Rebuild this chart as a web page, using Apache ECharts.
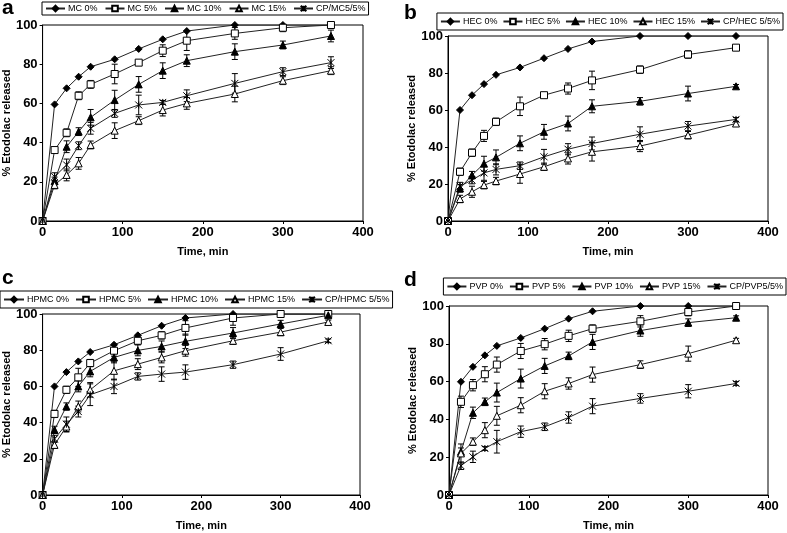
<!DOCTYPE html>
<html><head><meta charset="utf-8">
<script src="https://cdn.jsdelivr.net/npm/echarts@6/dist/echarts.min.js"></script>
<style>html,body{margin:0;padding:0;background:#fff}#c{width:787px;height:533px}</style>
</head><body><div id="c"></div>
<script>
const times = [0, 15, 30, 45, 60, 90, 120, 150, 180, 240, 300, 360];
const xTicks = [0, 100, 200, 300, 400];
const yTicks = [0, 20, 40, 60, 80, 100];

// Panel a (MC)
const namesA = ['MC 0%', 'MC 5%', 'MC 10%', 'MC 15%', 'CP/MC5/5%'];
const mc0  = [0, 59.5, 67.7, 73.6, 78.7, 82.5, 87.8, 92.7, 96.9, 100, 100, 100];
const mc5  = [0, 36.2, 45, 63.9, 69.7, 75, 80.8, 86.9, 92, 95.7, 98.6, 100];
const mc10 = [0, 20.4, 37.9, 45.6, 52.9, 61.7, 69.7, 76.7, 81.8, 86.4, 89.8, 94.4];
const mc15 = [0, 18.4, 23.5, 29.4, 38.8, 46.1, 51.2, 56.6, 60, 64.8, 71.6, 76.7];
const cpMc = [0, 22.6, 28.6, 38.4, 47.3, 54.9, 59.2, 60.5, 63.9, 70.2, 76.2, 80.8];
const mc0Err  = [0, 0, 0, 0, 0, 0, 0, 0, 0, 0, 0, 0];
const mc5Err  = [0, 1, 2, 2, 2, 5, 1, 3, 5, 3, 2, 1];
const mc10Err = [0, 2, 3, 2, 4, 5, 4, 4, 3, 4, 2, 3];
const mc15Err = [0, 2, 3, 3, 2, 4, 2, 3, 3, 4, 2, 2];
const cpMcErr = [0, 2, 3, 2, 3, 2, 5, 1, 3, 5, 2, 3];

// Panel b (HEC)
const namesB = ['HEC 0%', 'HEC 5%', 'HEC 10%', 'HEC 15%', 'CP/HEC 5/5%'];
const hec0  = [0, 60, 68, 74, 79, 83, 88, 93, 97, 100, 100, 100];
const hec5  = [0, 26.6, 36.9, 46, 53.6, 62, 68, 71.6, 76, 81.8, 90, 93.7];
const hec10 = [0, 17.6, 24.8, 31, 34.4, 42, 48.2, 52.7, 62, 64.7, 68.9, 72.8];
const hec15 = [0, 11.9, 15.8, 19.4, 21.6, 25.4, 29.3, 33.8, 37.4, 40.5, 46.4, 52.7];
const cpHec = [0, 18.9, 22.1, 26, 27.9, 29.9, 34.7, 38.8, 41.9, 46.9, 51.3, 54.9];
const hec0Err  = [0, 0, 0, 0, 0, 0, 0, 0, 0, 0, 0, 0];
const hec5Err  = [0, 2, 2, 3, 2, 5, 1, 3, 5, 2, 2, 1];
const hec10Err = [0, 2, 2, 4, 4, 4, 4, 4, 3.5, 2, 4, 1];
const hec15Err = [0, 2, 3, 2, 2, 5, 2, 3, 5, 3, 2, 1];
const cpHecErr = [0, 2, 2, 4, 3, 2, 4, 3, 3.5, 4, 2.5, 1];

// Panel c (HPMC)
const namesC = ['HPMC 0%', 'HPMC 5%', 'HPMC 10%', 'HPMC 15%', 'CP/HPMC 5/5%'];
const hpmc0  = [0, 60, 67.9, 73.8, 79, 83, 88.2, 93.5, 97.8, 100, 100, 100];
const hpmc5  = [0, 44.8, 58.1, 65, 72.9, 79.7, 85.2, 88.2, 92.3, 97.8, 100, 100];
const hpmc10 = [0, 36, 48.9, 60, 68.3, 76, 79.9, 82.1, 84.9, 89.5, 94.5, 99.3];
const hpmc15 = [0, 27.7, 37.8, 48.9, 58.1, 68.6, 72.3, 76, 79.7, 85.2, 90, 95.6];
const cpHpmc = [0, 31, 39.1, 46.1, 55.4, 60, 65.5, 66.8, 67.9, 72, 77.9, 85.2];
const hpmc0Err  = [0, 0, 0, 0, 0, 0, 0, 0, 0, 0, 0, 0];
const hpmc5Err  = [0, 2, 2, 5, 2, 3, 2, 2, 4, 4, 0, 1];
const hpmc10Err = [0, 2, 2, 3, 3, 3, 3, 3, 4, 3, 2, 1];
const hpmc15Err = [0, 2, 3, 3, 4, 5, 3, 3, 3, 2, 2, 1];
const cpHpmcErr = [0, 2, 4, 3, 6, 4, 2, 4, 4, 2, 3.5, 1];

// Panel d (PVP)
const namesD = ['PVP 0%', 'PVP 5%', 'PVP 10%', 'PVP 15%', 'CP/PVP5/5%'];
const pvp0  = [0, 59.9, 67.8, 73.9, 78.9, 83.1, 88, 93.3, 97.2, 100, 100, 100];
const pvp5  = [0, 49.3, 58.1, 63.9, 69, 76.2, 79.8, 84.2, 88, 91.9, 96.8, 100];
const pvp10 = [0, 22.9, 43.5, 49.3, 54.2, 61.6, 68.3, 73.6, 81, 87, 91.2, 93.8];
const pvp15 = [0, 22, 28.2, 34.3, 41.9, 47.5, 54.9, 59, 63.7, 69, 74.8, 81.9];
const cpPvp = [0, 15.5, 20.2, 24.6, 28.2, 33.5, 36.1, 41, 47, 51.1, 54.9, 59];
const pvp0Err  = [0, 0, 0, 0, 0, 0, 0, 0, 0, 0, 0, 0];
const pvp5Err  = [0, 3, 3, 4, 4, 4, 3, 3, 2, 3, 2, 1];
const pvp10Err = [0, 2, 3, 2, 5, 5, 4, 2, 4, 3, 2, 1];
const pvp15Err = [0, 5, 2, 4, 5, 4, 4, 3, 4, 2, 4, 1];
const cpPvpErr = [0, 2, 3, 1, 6, 3, 2, 3, 4, 2.5, 3.5, 1];

const STAR = 'path://M0,0L10,10M10,0L0,10M5,0L5,10';
const styles = [
  {symbol: 'diamond', size: 7, fill: '#000'},
  {symbol: 'rect', size: 7, fill: '#fff'},
  {symbol: 'triangle', size: 7, fill: '#000'},
  {symbol: 'triangle', size: 7, fill: '#fff'},
  {symbol: STAR, size: 7, fill: '#000'}
];

const panels = [
  {names: namesA, vals: [mc0, mc5, mc10, mc15, cpMc], errs: [mc0Err, mc5Err, mc10Err, mc15Err, cpMcErr],
   grid: {left: 42, top: 25, width: 321, height: 196}, legend: {left: 42, top: 2, gap: 7, iw: 19, pad: [2, 3]}, letter: [2, -2, 'a']},
  {names: namesB, vals: [hec0, hec5, hec10, hec15, cpHec], errs: [hec0Err, hec5Err, hec10Err, hec15Err, cpHecErr],
   grid: {left: 448, top: 36, width: 320, height: 185}, legend: {right: 4, top: 13, gap: 5, iw: 19, pad: [4, 3]}, letter: [404, 3, 'b']},
  {names: namesC, vals: [hpmc0, hpmc5, hpmc10, hpmc15, cpHpmc], errs: [hpmc0Err, hpmc5Err, hpmc10Err, hpmc15Err, cpHpmcErr],
   grid: {left: 42, top: 314, width: 318, height: 181}, legend: {left: 0, top: 291, gap: 6, iw: 20, pad: [4, 3]}, letter: [2, 268, 'c']},
  {names: namesD, vals: [pvp0, pvp5, pvp10, pvp15, cpPvp], errs: [pvp0Err, pvp5Err, pvp10Err, pvp15Err, cpPvpErr],
   grid: {left: 449, top: 306, width: 319, height: 189}, legend: {right: 1, top: 278, gap: 6, iw: 19, pad: [4, 3]}, letter: [404, 270, 'd']}
];

const FONT = 'Liberation Sans, Arial, sans-serif';
const option = {
  animation: false,
  backgroundColor: '#fff',
  grid: [], xAxis: [], yAxis: [], legend: [], series: [], graphic: []
};

panels.forEach((p, gi) => {
  option.grid.push(Object.assign({show: true, borderColor: '#000', borderWidth: 1, backgroundColor: 'transparent'}, p.grid));
  option.xAxis.push({
    gridIndex: gi, type: 'value', min: xTicks[0], max: xTicks[xTicks.length - 1], interval: xTicks[1] - xTicks[0],
    name: 'Time, min', nameLocation: 'middle', nameGap: 25,
    nameTextStyle: {fontFamily: FONT, fontWeight: 'bold', fontSize: 11, color: '#000'},
    axisLine: {lineStyle: {color: '#000', width: 1}},
    axisTick: {show: true, inside: false, length: 3, lineStyle: {color: '#000'}},
    axisLabel: {fontFamily: FONT, fontWeight: 'bold', fontSize: 13, color: '#000', margin: 5},
    splitLine: {show: false}
  });
  option.yAxis.push({
    gridIndex: gi, type: 'value', min: yTicks[0], max: yTicks[yTicks.length - 1], interval: yTicks[1] - yTicks[0],
    name: '% Etodolac released', nameLocation: 'middle', nameGap: 30,
    nameTextStyle: {fontFamily: FONT, fontWeight: 'bold', fontSize: 11, color: '#000'},
    axisLine: {lineStyle: {color: '#000', width: 1}},
    axisTick: {show: true, inside: false, length: 3, lineStyle: {color: '#000'}},
    axisLabel: {fontFamily: FONT, fontWeight: 'bold', fontSize: 13, color: '#000', margin: 5},
    splitLine: {show: false}
  });
  const lg = {
    data: p.names, top: p.legend.top,
    orient: 'horizontal', borderColor: '#000', borderWidth: 1, padding: p.legend.pad,
    itemWidth: p.legend.iw, itemHeight: 7, itemGap: p.legend.gap,
    textStyle: {fontFamily: FONT, fontSize: 9, color: '#000', padding: [0, 0, 0, -2]}
  };
  if (p.legend.left !== undefined) lg.left = p.legend.left; else lg.right = p.legend.right;
  option.legend.push(lg);
  p.names.forEach((nm, si) => {
    const st = styles[si];
    option.series.push({
      type: 'custom', name: nm + ' err', xAxisIndex: gi, yAxisIndex: gi, z: 1, silent: true,
      data: times.map((t, i) => [t, p.vals[si][i] - p.errs[si][i], p.vals[si][i] + p.errs[si][i], p.errs[si][i]]),
      renderItem: function (params, api) {
        if (api.value(3) <= 0) return null;
        const x = api.value(0);
        const top = api.coord([x, Math.min(api.value(2), 100)]);
        const bot = api.coord([x, api.value(1)]);
        const c = 3;
        const ls = {stroke: '#000', lineWidth: 1};
        return {type: 'group', children: [
          {type: 'line', shape: {x1: top[0], y1: top[1], x2: bot[0], y2: bot[1]}, style: ls},
          {type: 'line', shape: {x1: top[0] - c, y1: top[1], x2: top[0] + c, y2: top[1]}, style: ls},
          {type: 'line', shape: {x1: bot[0] - c, y1: bot[1], x2: bot[0] + c, y2: bot[1]}, style: ls}
        ]};
      }
    });
    option.series.push({
      type: 'line', name: nm, xAxisIndex: gi, yAxisIndex: gi, z: 3,
      data: times.map((t, i) => [t, p.vals[si][i]]),
      symbol: st.symbol, symbolSize: st.size,
      lineStyle: {color: '#222', width: 1},
      itemStyle: {color: st.fill, borderColor: '#000', borderWidth: 1},
      emphasis: {disabled: true}
    });
  });
  option.graphic.push({type: 'text', left: p.letter[0], top: p.letter[1],
    style: {text: p.letter[2], fontFamily: FONT, fontWeight: 'bold', fontSize: 21, fill: '#000'}});
});

const chart = echarts.init(document.getElementById('c'), null, {renderer: 'canvas'});
chart.setOption(option);
</script></body></html>
